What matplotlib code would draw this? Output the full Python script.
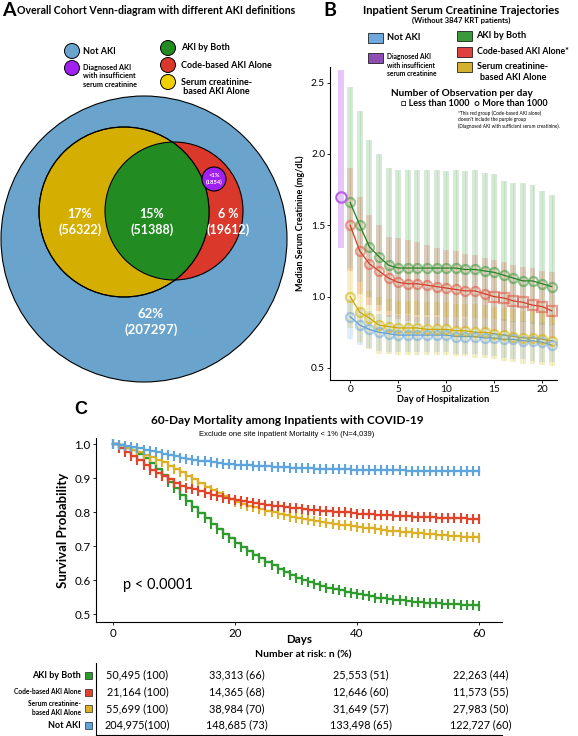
import matplotlib
matplotlib.use('Agg')
import matplotlib.pyplot as plt
from matplotlib.patches import Circle, Rectangle

plt.rcParams['font.family'] = ['Lato', 'DejaVu Sans']

# ---- panel A: venn counts
venn_labels = ['17%\n(56322)', '15%\n(51388)', '6 %\n(19612)', '<1%\n(1854)', '62%\n(207297)']

# ---- panel B: median serum creatinine per day (with IQR)
days_b = list(range(22))
green_med = [1.66, 1.50, 1.35, 1.28, 1.22, 1.20, 1.20, 1.20, 1.20, 1.20, 1.20, 1.20, 1.19, 1.19, 1.18, 1.17, 1.15, 1.13, 1.11, 1.11, 1.09, 1.07]
green_hi = [2.47, 2.30, 2.10, 2.00, 1.90, 1.89, 1.89, 1.89, 1.89, 1.89, 1.88, 1.89, 1.88, 1.89, 1.87, 1.86, 1.81, 1.80, 1.80, 1.78, 1.74, 1.71]
green_lo = [1.20, 1.10, 1.00, 0.94, 0.90, 0.88, 0.88, 0.87, 0.87, 0.87, 0.86, 0.86, 0.86, 0.85, 0.85, 0.84, 0.83, 0.82, 0.82, 0.81, 0.80, 0.80]
red_med = [1.50, 1.32, 1.23, 1.18, 1.13, 1.10, 1.09, 1.09, 1.08, 1.07, 1.06, 1.05, 1.04, 1.04, 1.02, 1.00, 0.99, 0.97, 0.96, 0.94, 0.93, 0.90]
red_hi = [1.90, 1.70, 1.57, 1.50, 1.42, 1.41, 1.40, 1.38, 1.36, 1.34, 1.33, 1.32, 1.30, 1.29, 1.27, 1.26, 1.24, 1.22, 1.21, 1.20, 1.18, 1.17]
red_lo = [1.18, 1.02, 0.94, 0.90, 0.86, 0.84, 0.83, 0.82, 0.81, 0.80, 0.80, 0.79, 0.78, 0.78, 0.77, 0.76, 0.75, 0.74, 0.73, 0.72, 0.72, 0.71]
red_small = [False] * 15 + [True] * 7  # fewer than 1000 observations
yellow_med = [1.00, 0.89, 0.85, 0.80, 0.79, 0.78, 0.78, 0.78, 0.77, 0.77, 0.77, 0.76, 0.76, 0.75, 0.75, 0.74, 0.73, 0.72, 0.71, 0.71, 0.70, 0.69]
yellow_hi = [1.20, 1.10, 1.04, 1.00, 0.98, 0.97, 0.97, 0.97, 0.96, 0.96, 0.96, 0.95, 0.95, 0.95, 0.94, 0.93, 0.92, 0.91, 0.90, 0.90, 0.89, 0.88]
yellow_lo = [0.78, 0.68, 0.63, 0.60, 0.60, 0.59, 0.59, 0.59, 0.59, 0.59, 0.59, 0.58, 0.58, 0.57, 0.57, 0.56, 0.55, 0.54, 0.53, 0.53, 0.52, 0.51]
blue_med = [0.86, 0.80, 0.77, 0.75, 0.74, 0.73, 0.73, 0.73, 0.73, 0.73, 0.73, 0.72, 0.72, 0.72, 0.71, 0.71, 0.70, 0.70, 0.69, 0.69, 0.68, 0.66]
blue_hi = [0.98, 0.92, 0.90, 0.88, 0.87, 0.87, 0.87, 0.86, 0.86, 0.86, 0.86, 0.86, 0.85, 0.85, 0.85, 0.84, 0.84, 0.83, 0.83, 0.82, 0.82, 0.81]
blue_lo = [0.70, 0.66, 0.64, 0.62, 0.61, 0.61, 0.61, 0.61, 0.61, 0.61, 0.61, 0.60, 0.60, 0.60, 0.59, 0.58, 0.57, 0.56, 0.56, 0.55, 0.54, 0.54]
purple_day = -1
purple_med = 1.70
purple_lo, purple_hi = 1.34, 2.59

# ---- panel C: survival by day
days_c = list(range(61))
surv_blue = [1.0, 0.998, 0.995, 0.992, 0.988, 0.984, 0.980, 0.976, 0.972, 0.968, 0.964, 0.960, 0.957, 0.954, 0.951, 0.949, 0.947, 0.945, 0.943, 0.941,
             0.940, 0.939, 0.938, 0.937, 0.936, 0.935, 0.934, 0.933, 0.932, 0.931, 0.930, 0.930, 0.929, 0.928, 0.928, 0.927, 0.927, 0.926, 0.926, 0.925,
             0.925, 0.925, 0.924, 0.924, 0.924, 0.923, 0.923, 0.923, 0.922, 0.922, 0.922, 0.922, 0.921, 0.921, 0.921, 0.921, 0.920, 0.920, 0.920, 0.920, 0.920]
surv_red = [1.0, 0.990, 0.978, 0.965, 0.952, 0.938, 0.925, 0.914, 0.905, 0.896, 0.886, 0.878, 0.872, 0.867, 0.861, 0.855, 0.851, 0.847, 0.843, 0.839,
            0.835, 0.832, 0.829, 0.826, 0.824, 0.821, 0.819, 0.817, 0.815, 0.813, 0.811, 0.809, 0.807, 0.806, 0.804, 0.803, 0.801, 0.800, 0.799, 0.797,
            0.796, 0.795, 0.794, 0.793, 0.792, 0.791, 0.790, 0.789, 0.788, 0.787, 0.786, 0.785, 0.785, 0.784, 0.783, 0.783, 0.782, 0.782, 0.781, 0.781, 0.780]
surv_yellow = [1.0, 0.997, 0.990, 0.983, 0.976, 0.969, 0.962, 0.954, 0.946, 0.937, 0.927, 0.917, 0.907, 0.897, 0.886, 0.874, 0.864, 0.855, 0.847, 0.839,
               0.831, 0.825, 0.819, 0.814, 0.809, 0.804, 0.799, 0.795, 0.791, 0.787, 0.783, 0.780, 0.777, 0.774, 0.771, 0.768, 0.765, 0.763, 0.761, 0.758,
               0.756, 0.754, 0.752, 0.750, 0.748, 0.746, 0.745, 0.743, 0.741, 0.740, 0.738, 0.737, 0.735, 0.734, 0.732, 0.731, 0.730, 0.728, 0.727, 0.726, 0.725]
surv_green = [1.0, 0.997, 0.990, 0.982, 0.972, 0.960, 0.945, 0.928, 0.910, 0.890, 0.870, 0.850, 0.833, 0.816, 0.798, 0.782, 0.766, 0.751, 0.737, 0.723,
              0.710, 0.698, 0.686, 0.675, 0.664, 0.654, 0.644, 0.634, 0.625, 0.616, 0.607, 0.600, 0.594, 0.588, 0.583, 0.578, 0.574, 0.570, 0.566, 0.562,
              0.558, 0.555, 0.552, 0.549, 0.547, 0.545, 0.543, 0.541, 0.539, 0.537, 0.536, 0.534, 0.533, 0.532, 0.531, 0.530, 0.529, 0.528, 0.527, 0.526, 0.525]

risk_groups = ['AKI by Both', 'Code-based AKI Alone', 'Serum creatinine-\nbased AKI Alone', 'Not AKI']
risk_days = [4, 20.3, 40.6, 60.3]
risk_table = [['50,495 (100)', '33,313 (66)', '25,553 (51)', '22,263 (44)'],
              ['21,164 (100)', '14,365 (68)', '12,646 (60)', '11,573 (55)'],
              ['55,699 (100)', '38,984 (70)', '31,649 (57)', '27,983 (50)'],
              ['204,975(100)', '148,685 (73)', '133,498 (65)', '122,727 (60)']]

# colours
c_blue, c_yel, c_grn, c_red, c_pur = '#6aa4cc', '#d4ae00', '#228b22', '#d9382a', '#a020f0'
b_grn, b_red, b_yel, b_blu, b_pur = '#3a9a3a', '#e0533f', '#d4b000', '#6fa8dc', '#b464e6'
k_blu, k_red, k_yel, k_grn = '#5da5da', '#e0452b', '#ddb127', '#2f9b2f'

fig = plt.figure(figsize=(5.78, 7.36), dpi=100)

# overlay in pixel coordinates for venn, legends and titles
ov = fig.add_axes([0, 0, 1, 1])
ov.set_xlim(0, 578)
ov.set_ylim(736, 0)
ov.axis('off')

# ---------------- A ----------------
ov.text(9, 11, 'A', fontsize=14, fontweight='bold', ha='center', va='center')
ov.text(17, 11, 'Overall Cohort Venn-diagram with different AKI definitions', fontsize=7.6,
        fontweight='bold', ha='left', va='center')

ov.add_patch(Circle((144, 239), 143, fc=c_blue, ec='black', lw=0.8))
ov.add_patch(Circle((174, 211), 69, fc=c_red, ec='black', lw=0.8))
yel = Circle((124, 212), 85, fc=c_yel, ec='black', lw=0.8)
ov.add_patch(yel)
lens = Circle((174, 211), 69, fc=c_grn, ec='black', lw=0.8)
ov.add_patch(lens)
lens.set_clip_path(yel)
ov.add_patch(Circle((124, 212), 85, fc='none', ec='black', lw=0.8))
ov.add_patch(Circle((214, 179), 12, fc=c_pur, ec='black', lw=0.8))

for (x, y), lab in zip([(80, 222), (152, 222), (228, 222)], venn_labels[:3]):
    ov.text(x, y, lab, color='white', fontsize=9, fontweight='bold', ha='center', va='center', linespacing=1.25)
ov.text(214, 179, venn_labels[3], color='white', fontsize=4.2, fontweight='bold', ha='center', va='center')
ov.text(151, 322, venn_labels[4], color='white', fontsize=9.5, fontweight='bold', ha='center', va='center', linespacing=1.25)

# legend A
for (x, y), col in zip([(72, 51), (72, 68), (168, 48), (168, 65), (168, 82)], [c_blue, c_pur, c_grn, c_red, '#f0d000']):
    ov.add_patch(Circle((x, y), 7.5, fc=col, ec='black', lw=0.7))
ov.text(83, 51, 'Not AKI', fontsize=6.5, fontweight='bold', va='center')
ov.text(83, 76, 'Diagnosed AKI\nwith insufficient\nserum creatinine', fontsize=5.2, fontweight='bold', va='center', linespacing=1.2)
ov.text(181, 48, 'AKI by Both', fontsize=6.5, fontweight='bold', va='center')
ov.text(181, 65, 'Code-based AKI Alone', fontsize=6.5, fontweight='bold', va='center')
ov.text(181, 87, 'Serum creatinine-\n based AKI Alone', fontsize=6.5, fontweight='bold', va='center', linespacing=1.1)

# ---------------- B ----------------
ov.text(330, 11, 'B', fontsize=14, fontweight='bold', ha='center', va='center')
ov.text(461, 11, 'Inpatient Serum Creatinine Trajectories', fontsize=8.1, fontweight='bold', ha='center', va='center')
ov.text(461, 20, '(Without 3847 KRT patients)', fontsize=5.5, fontweight='bold', ha='center', va='center')

for (x, y), col in zip([(368, 33), (368, 53), (457, 31), (457, 47), (457, 62)], [b_blu, '#8e4db0', b_grn, '#e04040', '#d4b030']):
    ov.add_patch(Rectangle((x, y), 15, 10, fc=col, ec='black', lw=0.5))
ov.text(387, 38, 'Not AKI', fontsize=6.7, fontweight='bold', va='center')
ov.text(387, 65, 'Diagnosed AKI\nwith insufficient\nserum creatinine', fontsize=4.8, fontweight='bold', va='center', linespacing=1.25)
ov.text(476, 36, 'AKI by Both', fontsize=6.7, fontweight='bold', va='center')
ov.text(477, 52, 'Code-based AKI Alone*', fontsize=6.3, fontweight='bold', va='center')
ov.text(513, 72, 'Serum creatinine-\nbased AKI Alone', fontsize=6.5, fontweight='bold', ha='center', va='center', linespacing=1.15)
ov.text(462, 93, 'Number of Observation per day', fontsize=7.2, fontweight='bold', ha='center', va='center')
ov.text(474, 103, '□ Less than 1000  ○ More than 1000', fontsize=6.5, fontweight='bold', ha='center', va='center')
ov.text(458, 120, '*This red group (Code-based AKI alone)\ndoesn\'t include the purple group\n(Diagnosed AKI with sufficient serum creatinine).',
        fontsize=3.4, ha='left', va='center', linespacing=1.3)

axB = fig.add_axes([330 / 578, 1 - 380 / 736, 227 / 578, 313 / 736])
axB.patch.set_alpha(0)
axB.set_xlim(-2.1, 21.55)
axB.set_ylim(0.415, 2.61)
for s in ['top', 'right']:
    axB.spines[s].set_visible(False)

groups_b = [(green_med, green_lo, green_hi, b_grn, '#1e7f1e'),
            (red_med, red_lo, red_hi, b_red, '#d0392a'),
            (yellow_med, yellow_lo, yellow_hi, b_yel, '#c9a400'),
            (blue_med, blue_lo, blue_hi, b_blu, '#5b9bd5')]
for med, lo, hi, col, lcol in groups_b:
    axB.bar(days_b, [h - l for h, l in zip(hi, lo)], bottom=lo, width=0.62, color=col, alpha=0.2, lw=0)
    axB.vlines(days_b, lo, hi, color=col, lw=0.4, alpha=0.25)
axB.bar([purple_day], [purple_hi - purple_lo], bottom=[purple_lo], width=0.62, color='#d9a0f5', alpha=0.6, lw=0)

for med, lo, hi, col, lcol in groups_b:
    axB.plot(days_b, med, color=lcol, lw=0.9, zorder=3)
    if med is red_med:
        cd = [d for d, s in zip(days_b, red_small) if not s]
        cm = [m for m, s in zip(med, red_small) if not s]
        sd = [d for d, s in zip(days_b, red_small) if s]
        sm = [m for m, s in zip(med, red_small) if s]
        axB.plot(cd, cm, 'o', ms=6.5, mfc='none', mec=col, mew=1.6, alpha=0.55, zorder=4)
        axB.plot(sd, sm, 's', ms=7.5, mfc='none', mec=col, mew=1.6, alpha=0.55, zorder=4)
    else:
        axB.plot(days_b, med, 'o', ms=6.5, mfc='none', mec=col, mew=1.6, alpha=0.55, zorder=4)
axB.plot([purple_day], [purple_med], 'o', ms=7.5, mfc='none', mec=b_pur, mew=1.6, zorder=4)

axB.set_xticks([0, 5, 10, 15, 20])
axB.set_yticks([0.5, 1.0, 1.5, 2.0, 2.5])
axB.set_yticklabels(['0.5', '1.0', '1.5', '2.0', '2.5'])
axB.tick_params(labelsize=7.3, length=2, width=0.6, pad=1.5)
axB.set_xlabel('Day of Hospitalization', fontsize=6.7, fontweight='bold', labelpad=1)
axB.set_ylabel('Median Serum Creatinine (mg/dL)', fontsize=6.5, fontweight='bold', labelpad=4)

# ---------------- C ----------------
ov.text(81, 410, 'C', fontsize=13, fontweight='bold', ha='center', va='center', family='Liberation Sans')
ov.text(287, 421, '60-Day Mortality among Inpatients with COVID-19', fontsize=8.6, fontweight='bold', ha='center', va='center')
ov.text(287, 434, 'Exclude one site inpatient Mortality < 1% (N=4,039)', fontsize=5.5, ha='center', va='center', family='Liberation Sans')

axC = fig.add_axes([96 / 578, 1 - 622 / 736, 406 / 578, 184 / 736])
axC.patch.set_alpha(0)
axC.set_xlim(-2.8, 63.8)
axC.set_ylim(0.477, 1.018)
for s in ['top', 'right']:
    axC.spines[s].set_visible(False)
for surv, col in [(surv_blue, k_blu), (surv_red, k_red), (surv_yellow, k_yel), (surv_green, k_grn)][::-1]:
    axC.step(days_c, surv, where='post', color=col, lw=1.7)
    axC.plot(days_c, surv, '|', ms=7, mew=1.5, color=col)
axC.text(1.6, 0.585, 'p < 0.0001', fontsize=10.5, ha='left', va='center')
axC.set_xticks([0, 20, 40, 60])
axC.set_yticks([0.5, 0.6, 0.7, 0.8, 0.9, 1.0])
axC.set_yticklabels(['0.5', '0.6', '0.7', '0.8', '0.9', '1.0'])
axC.tick_params(labelsize=8.3, length=2, width=0.6, pad=2)
axC.set_xlabel('Days', fontsize=8.3, fontweight='bold', labelpad=-3)
axC.set_ylabel('Survival Probability', fontsize=9.5, fontweight='bold', labelpad=4)

# number at risk
ov.text(303, 655, 'Number at risk: n (%)', fontsize=7.5, fontweight='bold', ha='center', va='center')
axT = fig.add_axes([96 / 578, 1 - 735 / 736, 406 / 578, 72 / 736])
axT.patch.set_alpha(0)
axT.set_xlim(-2.8, 63.8)
axT.set_ylim(3.6, -0.72)
for s in ['top', 'right']:
    axT.spines[s].set_visible(False)
axT.set_xticks([0, 20, 40, 60])
axT.set_xticklabels([])
axT.set_yticks([])
axT.tick_params(length=2, width=0.6)
for r, row in enumerate(risk_table):
    for d, txt in zip(risk_days, row):
        axT.text(d, r, txt, fontsize=7.8, ha='center', va='center')

row_y = [675, 692, 708, 725]
row_fs = [6.5, 4.8, 4.8, 6.5]
for y, lab, fs, col in zip(row_y, risk_groups, row_fs, [k_grn, k_red, k_yel, k_blu]):
    ov.add_patch(Rectangle((85, y - 3.5), 7, 7, fc=col, ec='black', lw=0.4))
    ov.text(81, y, lab, fontsize=fs, fontweight='bold', ha='right', va='center', linespacing=1.2)

fig.savefig('out.png', dpi=100)
